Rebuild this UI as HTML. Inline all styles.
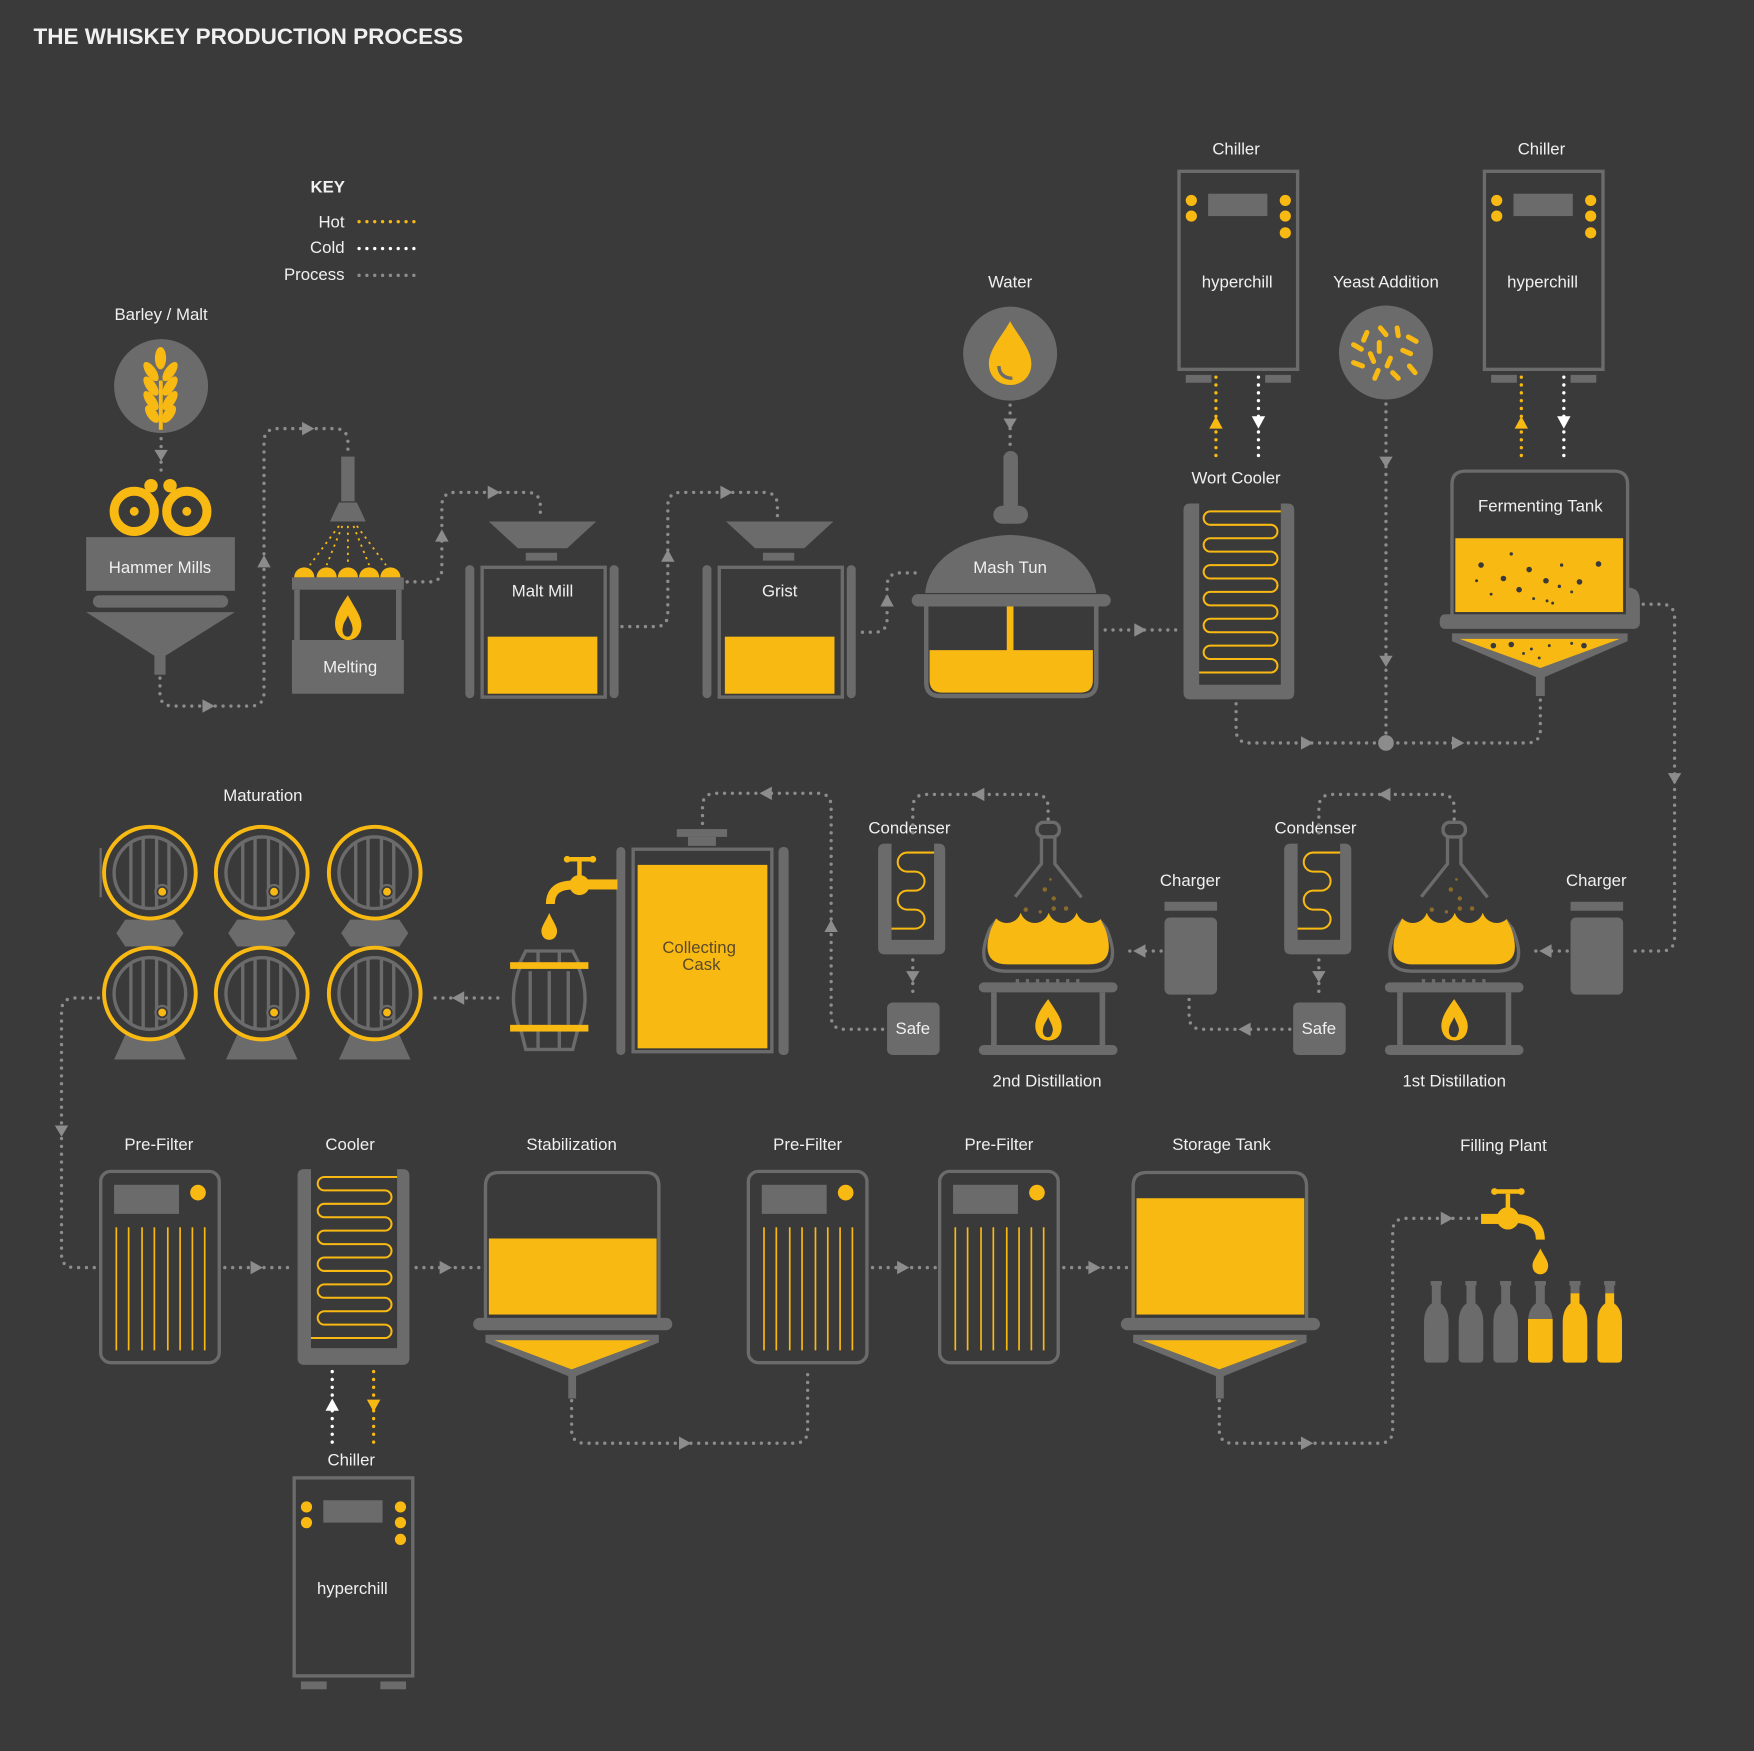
<!DOCTYPE html>
<html><head><meta charset="utf-8"><style>
html,body{margin:0;padding:0;background:#3a3a3a;}
svg{display:block;}
text{font-family:"Liberation Sans",sans-serif;fill:#f0f0f0;}
</style></head><body>
<svg width="1754" height="1751" viewBox="0 0 1568 1565" xmlns="http://www.w3.org/2000/svg">
<rect width="1568" height="1565" fill="#3a3a3a"/>
<defs>
<style>
.p{fill:none;stroke:#8c8c8c;stroke-width:3;stroke-linecap:round;stroke-dasharray:0 7;}
.h{fill:none;stroke:#f9b913;stroke-width:3;stroke-linecap:round;stroke-dasharray:0 7;}
.c{fill:none;stroke:#fff;stroke-width:3;stroke-linecap:round;stroke-dasharray:0 7;}
.g{fill:#6b6b6b;}
.y{fill:#f9b913;}
.go{fill:none;stroke:#6b6b6b;stroke-width:3;}
.coil{fill:none;stroke:#f9b913;stroke-width:1.8;}
.ah{fill:#8c8c8c;}
.bg{fill:#3a3a3a;}
</style>
</defs>

<!-- Title -->
<text x="30" y="39" font-size="20" font-weight="bold" textLength="384" lengthAdjust="spacingAndGlyphs">THE WHISKEY PRODUCTION PROCESS</text>

<!-- KEY -->
<text x="293" y="172" font-size="15" font-weight="bold" text-anchor="middle">KEY</text>
<text x="308" y="203" font-size="15" text-anchor="end">Hot</text>
<text x="308" y="226" font-size="15" text-anchor="end">Cold</text>
<text x="308" y="250" font-size="15" text-anchor="end">Process</text>
<line class="h" x1="321" y1="198" x2="372" y2="198"/>
<line class="c" x1="321" y1="222" x2="372" y2="222"/>
<line class="p" x1="321" y1="246" x2="372" y2="246"/>

<!-- Barley -->
<text x="144" y="286" font-size="15" text-anchor="middle">Barley / Malt</text>
<circle cx="144" cy="345" r="42" class="g"/>
<g class="y">
<rect x="142" y="340" width="3.5" height="44"/>
<ellipse cx="143.5" cy="320" rx="5" ry="10"/>
<ellipse cx="135" cy="332" rx="4.5" ry="10" transform="rotate(-35 135 332)"/>
<ellipse cx="152" cy="332" rx="4.5" ry="10" transform="rotate(35 152 332)"/>
<ellipse cx="135" cy="345" rx="4.5" ry="10" transform="rotate(-35 135 345)"/>
<ellipse cx="152" cy="345" rx="4.5" ry="10" transform="rotate(35 152 345)"/>
<ellipse cx="135" cy="358" rx="4.5" ry="10" transform="rotate(-35 135 358)"/>
<ellipse cx="152" cy="358" rx="4.5" ry="10" transform="rotate(35 152 358)"/>
<ellipse cx="136" cy="370" rx="4.5" ry="9" transform="rotate(-35 136 370)"/>
<ellipse cx="151" cy="370" rx="4.5" ry="9" transform="rotate(35 151 370)"/>
</g>
<line class="p" x1="144" y1="392" x2="144" y2="425"/>
<polygon class="ah" points="138,402 150,402 144,412"/>

<!-- Hammer mills -->
<circle cx="120" cy="457" r="18" fill="none" stroke="#f9b913" stroke-width="8"/>
<circle cx="167" cy="457" r="18" fill="none" stroke="#f9b913" stroke-width="8"/>
<circle cx="120" cy="457" r="4" class="y"/><circle cx="167" cy="457" r="4" class="y"/>
<circle cx="135" cy="434" r="6" class="y"/><circle cx="152" cy="434" r="6" class="y"/>
<rect x="77" y="480" width="133" height="48" class="g"/>
<text x="143" y="512" font-size="15" text-anchor="middle">Hammer Mills</text>
<rect x="83" y="532" width="121" height="11" rx="5.5" class="g"/>
<polygon class="g" points="77,547 210,547 148,586 148,603 138,603 138,586"/>
<path class="p" d="M143,606 V620 Q143,631 155,631 H224 Q236,631 236,619 V395 Q236,383 248,383 H299 Q311,383 311,395 V406"/>
<polygon class="ah" points="181,625 192,631 181,637"/>
<polygon class="ah" points="230,507 242,507 236,496"/>
<polygon class="ah" points="270,377 281,383 270,389"/>

<!-- Melting -->
<rect x="305" y="408" width="12" height="40" class="g"/>
<polygon class="g" points="303,449 319,449 327,466 295,466"/>
<g stroke="#f9b913" stroke-width="1.6" stroke-dasharray="2 4" fill="none">
<line x1="303" y1="470" x2="277" y2="505"/><line x1="306" y1="470" x2="292" y2="505"/><line x1="311" y1="470" x2="311" y2="505"/><line x1="316" y1="470" x2="330" y2="505"/><line x1="319" y1="470" x2="345" y2="505"/>
</g>
<g class="y"><path d="M263,516 a9,9 0 0 1 18,0Z"/><path d="M283,516 a9,9 0 0 1 18,0Z"/><path d="M302,516 a9,9 0 0 1 18,0Z"/><path d="M321,516 a9,9 0 0 1 18,0Z"/><path d="M340,516 a9,9 0 0 1 18,0Z"/></g>
<rect x="261" y="516" width="100" height="11" class="g"/>
<rect x="263" y="527" width="5" height="46" class="g"/><rect x="354" y="527" width="5" height="46" class="g"/>
<path class="y" d="M311,532 C302,545 298,553 300,562 C302,569 307,572 311,572 C317,572 322,568 323,560 C324,552 318,545 311,532Z M311,569 C307,569 305,565 307,558 C308,555 310,553 311,550 C313,555 316,559 315,564 C314,567 313,569 311,569Z"/>
<rect x="261" y="572" width="100" height="48" class="g"/>
<text x="313" y="601" font-size="15" text-anchor="middle">Melting</text>
<path class="p" d="M364,520 H384 Q395,520 395,508 V452 Q395,440 407,440 H471 Q483,440 483,452 V462"/>
<polygon class="ah" points="389,484 401,484 395,473"/>
<polygon class="ah" points="436,434 447,440 436,446"/>

<!-- Malt mill -->
<g id="mill">
<polygon class="g" points="437,466 533,466 507,490 463,490"/>
<rect x="470" y="494" width="28" height="7" class="g"/>
<rect x="416" y="505" width="8" height="119" rx="4" class="g"/>
<rect x="545" y="505" width="8" height="119" rx="4" class="g"/>
<rect x="431" y="507" width="110" height="116" class="go" stroke-width="4"/>
<rect x="436" y="569" width="98" height="51" class="y"/>
</g>
<text x="485" y="533" font-size="15" text-anchor="middle">Malt Mill</text>
<use href="#mill" transform="translate(212 0)"/>
<text x="697" y="533" font-size="15" text-anchor="middle">Grist</text>
<path class="p" d="M556,560 H586 Q597,560 597,548 V452 Q597,440 609,440 H683 Q695,440 695,452 V462"/>
<polygon class="ah" points="591,502 603,502 597,491"/>
<polygon class="ah" points="644,434 655,440 644,446"/>

<!-- Water -->
<text x="903" y="257" font-size="15" text-anchor="middle">Water</text>
<circle cx="903" cy="316" r="42" class="g"/>
<path class="y" d="M903,287 C896,300 884,312 884,325 C884,337 893,344 903,344 C913,344 922,337 922,325 C922,312 910,300 903,287Z"/>
<path d="M893,327 C893,334 898,338 905,338" fill="none" stroke="#6b6b6b" stroke-width="3"/>
<line class="p" x1="903" y1="362" x2="903" y2="398"/>
<polygon class="ah" points="897,374 909,374 903,384"/>

<!-- Mash tun -->
<rect x="897" y="403" width="13" height="60" rx="6.5" class="g"/>
<rect x="888" y="452" width="31" height="16" rx="8" class="g"/>
<path class="g" d="M827,530 C830,500 860,480 903,478 C946,480 976,500 980,530Z"/>
<text x="903" y="512" font-size="15" text-anchor="middle">Mash Tun</text>
<rect x="815" y="531" width="178" height="11" rx="5.5" class="g"/>
<path d="M828,542 V610 Q828,622 840,622 H968 Q980,622 980,610 V542" fill="none" stroke="#6b6b6b" stroke-width="4"/>
<path class="y" d="M831,581 H977 V608 Q977,619 966,619 H842 Q831,619 831,608Z"/>
<rect x="900" y="542" width="6" height="40" class="y"/>
<path class="p" d="M771,565 H782 Q793,565 793,553 V524 Q793,512 805,512 H822"/>
<polygon class="ah" points="787,542 799,542 793,531"/>
<line class="p" x1="988" y1="563" x2="1052" y2="563"/>
<polygon class="ah" points="1014,557 1025,563 1014,569"/>

<!-- Wort cooler -->
<text x="1105" y="432" font-size="15" text-anchor="middle">Wort Cooler</text>
<path class="g" d="M1058,456 Q1058,450 1064,450 H1072 V612 H1145 V450 H1151 Q1157,450 1157,456 V619 Q1157,625 1151,625 H1064 Q1058,625 1058,619Z"/>
<path class="coil" d="M1145,457 H1082 a6,6 0 0 0 0,12 H1136 a6,6 0 0 1 0,12 H1082 a6,6 0 0 0 0,12 H1136 a6,6 0 0 1 0,12 H1082 a6,6 0 0 0 0,12 H1136 a6,6 0 0 1 0,12 H1082 a6,6 0 0 0 0,12 H1136 a6,6 0 0 1 0,12 H1082 a6,6 0 0 0 0,12 H1136 a6,6 0 0 1 0,12 H1082 a6,6 0 0 0 0,12 H1136 a6,6 0 0 1 0,12 H1072"/>

<!-- Chillers -->
<g id="chill">
<rect x="1054" y="153" width="106" height="177" class="go" stroke-width="2.5"/>
<rect x="1080" y="173" width="53" height="20" class="g"/>
<circle cx="1065" cy="179" r="5" class="y"/><circle cx="1065" cy="193" r="5" class="y"/>
<circle cx="1149" cy="179" r="5" class="y"/><circle cx="1149" cy="193" r="5" class="y"/><circle cx="1149" cy="208" r="5" class="y"/>
<rect x="1060" y="335" width="23" height="7" class="g"/><rect x="1131" y="335" width="23" height="7" class="g"/>
<text x="1106" y="257" font-size="15" text-anchor="middle">hyperchill</text>
</g>
<text x="1105" y="138" font-size="15" text-anchor="middle">Chiller</text>
<line class="h" x1="1087" y1="337" x2="1087" y2="413"/>
<polygon points="1081,383 1093,383 1087,372" class="y"/>
<line class="c" x1="1125" y1="337" x2="1125" y2="413"/>
<polygon points="1119,372 1131,372 1125,383" fill="#fff"/>

<use href="#chill" transform="translate(273 0)"/>
<text x="1378" y="138" font-size="15" text-anchor="middle">Chiller</text>
<line class="h" x1="1360" y1="337" x2="1360" y2="413"/>
<polygon points="1354,383 1366,383 1360,372" class="y"/>
<line class="c" x1="1398" y1="337" x2="1398" y2="413"/>
<polygon points="1392,372 1404,372 1398,383" fill="#fff"/>

<!-- Yeast -->
<text x="1239" y="257" font-size="15" text-anchor="middle">Yeast Addition</text>
<circle cx="1239" cy="315" r="42" class="g"/>
<g stroke="#f9b913" stroke-width="4.5" stroke-linecap="round">
<line x1="1234" y1="293" x2="1239" y2="299"/><line x1="1249" y1="293" x2="1250" y2="300"/><line x1="1222" y1="297" x2="1219" y2="304"/>
<line x1="1233" y1="306" x2="1233" y2="314"/><line x1="1259" y1="301" x2="1266" y2="305"/><line x1="1210" y1="308" x2="1217" y2="312"/>
<line x1="1225" y1="316" x2="1228" y2="323"/><line x1="1243" y1="320" x2="1240" y2="327"/><line x1="1254" y1="313" x2="1261" y2="316"/>
<line x1="1210" y1="324" x2="1218" y2="327"/><line x1="1232" y1="331" x2="1229" y2="338"/><line x1="1245" y1="333" x2="1250" y2="338"/><line x1="1260" y1="327" x2="1265" y2="333"/>
</g>
<line class="p" x1="1239" y1="361" x2="1239" y2="662"/>
<polygon class="ah" points="1233,408 1245,408 1239,418"/>
<polygon class="ah" points="1233,586 1245,586 1239,596"/>

<!-- Fermenting tank -->
<path d="M1298,550 V433 Q1298,421 1310,421 H1443 Q1455,421 1455,433 V550" fill="none" stroke="#6b6b6b" stroke-width="3"/>
<text x="1377" y="457" font-size="15" text-anchor="middle">Fermenting Tank</text>
<rect x="1301" y="481" width="150" height="66" class="y"/>
<g fill="#3a3a3a">
<circle cx="1324" cy="505" r="2.5"/><circle cx="1351" cy="495" r="1.5"/><circle cx="1367" cy="509" r="2.5"/><circle cx="1396" cy="505" r="1.5"/><circle cx="1429" cy="504" r="2.5"/>
<circle cx="1320" cy="519" r="1.3"/><circle cx="1344" cy="517" r="2.5"/><circle cx="1382" cy="519" r="2.5"/><circle cx="1412" cy="520" r="2.5"/><circle cx="1358" cy="527" r="2.5"/><circle cx="1333" cy="531" r="1.3"/>
<circle cx="1394" cy="524" r="1.5"/><circle cx="1371" cy="535" r="1.3"/><circle cx="1383" cy="537" r="1.3"/><circle cx="1388" cy="539" r="1.3"/><circle cx="1405" cy="529" r="1.3"/>
</g>
<path class="g" d="M1292,549 H1455 V525 Q1466,525 1466,537 V556 Q1466,562 1460,562 H1292 Q1287,562 1287,556 Q1287,549 1292,549Z"/>
<polygon class="g" points="1298,566 1455,566 1455,573 1381,605 1381,622 1373,622 1373,605 1298,573"/>
<polygon class="y" points="1305,571 1448,571 1377,597"/>
<g fill="#3a3a3a"><circle cx="1335" cy="577" r="2.5"/><circle cx="1351" cy="576" r="2.5"/><circle cx="1369" cy="580" r="1.3"/><circle cx="1385" cy="577" r="1.3"/><circle cx="1405" cy="575" r="1.3"/><circle cx="1416" cy="577" r="2.5"/><circle cx="1376" cy="588" r="1.3"/><circle cx="1362" cy="584" r="1.3"/></g>
<path class="p" d="M1105,629 V652 Q1105,664 1117,664 H1365 Q1377,664 1377,652 V625"/>
<circle cx="1239" cy="664" r="7" fill="#8c8c8c"/>
<polygon class="ah" points="1163,658 1174,664 1163,670"/>
<polygon class="ah" points="1298,658 1309,664 1298,670"/>
<path class="p" d="M1469,540 H1485 Q1497,540 1497,552 V838 Q1497,850 1485,850 H1460"/>
<polygon class="ah" points="1491,691 1503,691 1497,701"/>

<!-- 1st distillation side -->
<g id="dist">
<text x="1427" y="792" font-size="15" text-anchor="middle">Charger</text>
<rect x="1404" y="806" width="47" height="8" class="g"/>
<rect x="1404" y="820" width="47" height="69" rx="5" class="g"/>
<line class="p" x1="1401" y1="850" x2="1368" y2="850"/>
<polygon class="ah" points="1387,844 1376,850 1387,856"/>
<rect x="1290" y="735" width="20" height="13" rx="6" fill="none" stroke="#6b6b6b" stroke-width="3"/>
<path d="M1294,748 V772 L1248,830 Q1232,868 1262,868 H1338 Q1368,868 1352,830 L1306,772 V748" fill="none" stroke="#6b6b6b" stroke-width="3"/>
<path class="y" d="M1249,830 L1256,816 H1344 L1351,830 Q1362,862 1336,862 H1264 Q1238,862 1249,830Z"/>
<g class="bg"><circle cx="1263" cy="812" r="13"/><circle cx="1288" cy="812" r="13"/><circle cx="1313" cy="812" r="13"/><circle cx="1338" cy="812" r="13"/></g>
<g fill="#8a6a2a"><circle cx="1297" cy="795" r="2"/><circle cx="1305" cy="803" r="2"/><circle cx="1280" cy="813" r="2"/><circle cx="1305" cy="812" r="2"/><circle cx="1316" cy="812" r="2"/><circle cx="1293" cy="815" r="1.5"/><circle cx="1302" cy="786" r="1.2"/></g>
<rect x="1238" y="878" width="124" height="9" rx="4.5" class="g"/>
<g class="g"><rect x="1271" y="875" width="3" height="9"/><rect x="1280" y="875" width="3" height="9"/><rect x="1289" y="875" width="3" height="9"/><rect x="1298" y="875" width="3" height="9"/><rect x="1307" y="875" width="3" height="9"/><rect x="1316" y="875" width="3" height="9"/><rect x="1325" y="875" width="3" height="9"/></g>
<rect x="1249" y="887" width="5" height="48" class="g"/><rect x="1346" y="887" width="5" height="48" class="g"/>
<rect x="1238" y="934" width="124" height="9" rx="4.5" class="g"/>
<path class="y" d="M1300,893 C1291,905 1287,913 1289,921 C1291,928 1296,930 1300,930 C1306,930 1311,927 1312,919 C1313,911 1307,904 1300,893Z M1300,927 C1296,927 1294,923 1296,917 C1297,914 1299,912 1300,909 C1302,914 1305,918 1304,922 C1303,926 1302,927 1300,927Z"/>
<text x="1300" y="971" font-size="15" text-anchor="middle">1st Distillation</text>
<text x="1176" y="745" font-size="15" text-anchor="middle">Condenser</text>
<path class="g" d="M1148,760 Q1148,754 1154,754 H1160 V840 H1198 V754 H1202 Q1208,754 1208,760 V847 Q1208,853 1202,853 H1154 Q1148,853 1148,847Z"/>
<path class="coil" d="M1198,762 H1174 a8.5,8.5 0 0 0 0,17 H1181 a8.5,8.5 0 0 1 0,17 H1174 a8.5,8.5 0 0 0 0,17 H1181 a8.5,8.5 0 0 1 0,17 H1160"/>
<line class="p" x1="1179" y1="858" x2="1179" y2="890"/>
<polygon class="ah" points="1173,868 1185,868 1179,878"/>
<rect x="1156" y="896" width="47" height="47" rx="5" class="g"/>
<text x="1179" y="924" font-size="15" text-anchor="middle">Safe</text>
<path class="p" d="M1300,732 V722 Q1300,710 1288,710 H1191 Q1179,710 1179,722 V749"/>
<polygon class="ah" points="1243,704 1232,710 1243,716"/>
</g>
<g transform="translate(-363 0)">
<text x="1427" y="792" font-size="15" text-anchor="middle">Charger</text>
<rect x="1404" y="806" width="47" height="8" class="g"/>
<rect x="1404" y="820" width="47" height="69" rx="5" class="g"/>
<line class="p" x1="1401" y1="850" x2="1368" y2="850"/>
<polygon class="ah" points="1387,844 1376,850 1387,856"/>
<rect x="1290" y="735" width="20" height="13" rx="6" fill="none" stroke="#6b6b6b" stroke-width="3"/>
<path d="M1294,748 V772 L1248,830 Q1232,868 1262,868 H1338 Q1368,868 1352,830 L1306,772 V748" fill="none" stroke="#6b6b6b" stroke-width="3"/>
<path class="y" d="M1249,830 L1256,816 H1344 L1351,830 Q1362,862 1336,862 H1264 Q1238,862 1249,830Z"/>
<g class="bg"><circle cx="1263" cy="812" r="13"/><circle cx="1288" cy="812" r="13"/><circle cx="1313" cy="812" r="13"/><circle cx="1338" cy="812" r="13"/></g>
<g fill="#8a6a2a"><circle cx="1297" cy="795" r="2"/><circle cx="1305" cy="803" r="2"/><circle cx="1280" cy="813" r="2"/><circle cx="1305" cy="812" r="2"/><circle cx="1316" cy="812" r="2"/><circle cx="1293" cy="815" r="1.5"/><circle cx="1302" cy="786" r="1.2"/></g>
<rect x="1238" y="878" width="124" height="9" rx="4.5" class="g"/>
<g class="g"><rect x="1271" y="875" width="3" height="9"/><rect x="1280" y="875" width="3" height="9"/><rect x="1289" y="875" width="3" height="9"/><rect x="1298" y="875" width="3" height="9"/><rect x="1307" y="875" width="3" height="9"/><rect x="1316" y="875" width="3" height="9"/><rect x="1325" y="875" width="3" height="9"/></g>
<rect x="1249" y="887" width="5" height="48" class="g"/><rect x="1346" y="887" width="5" height="48" class="g"/>
<rect x="1238" y="934" width="124" height="9" rx="4.5" class="g"/>
<path class="y" d="M1300,893 C1291,905 1287,913 1289,921 C1291,928 1296,930 1300,930 C1306,930 1311,927 1312,919 C1313,911 1307,904 1300,893Z M1300,927 C1296,927 1294,923 1296,917 C1297,914 1299,912 1300,909 C1302,914 1305,918 1304,922 C1303,926 1302,927 1300,927Z"/>
<text x="1299" y="971" font-size="15" text-anchor="middle">2nd Distillation</text>
<text x="1176" y="745" font-size="15" text-anchor="middle">Condenser</text>
<path class="g" d="M1148,760 Q1148,754 1154,754 H1160 V840 H1198 V754 H1202 Q1208,754 1208,760 V847 Q1208,853 1202,853 H1154 Q1148,853 1148,847Z"/>
<path class="coil" d="M1198,762 H1174 a8.5,8.5 0 0 0 0,17 H1181 a8.5,8.5 0 0 1 0,17 H1174 a8.5,8.5 0 0 0 0,17 H1181 a8.5,8.5 0 0 1 0,17 H1160"/>
<line class="p" x1="1179" y1="858" x2="1179" y2="890"/>
<polygon class="ah" points="1173,868 1185,868 1179,878"/>
<rect x="1156" y="896" width="47" height="47" rx="5" class="g"/>
<text x="1179" y="924" font-size="15" text-anchor="middle">Safe</text>
<path class="p" d="M1300,732 V722 Q1300,710 1288,710 H1191 Q1179,710 1179,722 V749"/>
<polygon class="ah" points="1243,704 1232,710 1243,716"/>
</g>
<path class="p" d="M1153,920 H1075 Q1063,920 1063,908 V892"/>
<polygon class="ah" points="1118,914 1107,920 1118,926"/>

<path class="p" d="M789,920 H755 Q743,920 743,908 V721 Q743,709 731,709 H640 Q628,709 628,721 V738"/>
<polygon class="ah" points="737,833 749,833 743,822"/>
<polygon class="ah" points="690,703 679,709 690,715"/>

<!-- Collecting cask -->
<rect x="605" y="741" width="45" height="7" class="g"/>
<rect x="615" y="748" width="25" height="8" class="g"/>
<rect x="551" y="757" width="8" height="186" rx="4" class="g"/>
<rect x="696" y="757" width="9" height="186" rx="4" class="g"/>
<rect x="566" y="759" width="124" height="181" class="go" stroke-width="3"/>
<rect x="570" y="773" width="116" height="164" class="y"/>
<text x="625" y="852" font-size="15" style="fill:#5a4a2a" text-anchor="middle">Collecting</text>
<text x="627" y="867" font-size="15" style="fill:#5a4a2a" text-anchor="middle">Cask</text>
<!-- tap -->
<rect x="520" y="786" width="32" height="9" class="y"/>
<circle cx="518" cy="791" r="9" class="y"/>
<rect x="516" y="770" width="4" height="14" class="y"/>
<rect x="506" y="766" width="25" height="4" rx="2" class="y"/>
<circle cx="507" cy="768" r="3" class="y"/><circle cx="530" cy="768" r="3" class="y"/>
<path d="M512,791 Q492,791 492,808" fill="none" stroke="#f9b913" stroke-width="8"/>
<path class="y" d="M491,816 C488,823 484,828 484,832 C484,837 487,840 491,840 C495,840 498,837 498,832 C498,828 494,823 491,816Z"/>
<!-- small barrel -->
<path class="go" d="M464,862 L470,850 H512 L518,862 M466,862 Q452,893 466,922 M516,862 Q530,893 516,922 M466,922 L470,938 H512 L516,922" stroke-width="3"/>
<line x1="481" y1="850" x2="481" y2="862" stroke="#6b6b6b" stroke-width="3"/><line x1="500" y1="850" x2="500" y2="862" stroke="#6b6b6b" stroke-width="3"/>
<line x1="481" y1="922" x2="481" y2="938" stroke="#6b6b6b" stroke-width="3"/><line x1="500" y1="922" x2="500" y2="938" stroke="#6b6b6b" stroke-width="3"/>
<line x1="474" y1="868" x2="474" y2="916" stroke="#6b6b6b" stroke-width="3"/><line x1="491" y1="868" x2="491" y2="916" stroke="#6b6b6b" stroke-width="3"/><line x1="508" y1="868" x2="508" y2="916" stroke="#6b6b6b" stroke-width="3"/>
<rect x="456" y="860" width="70" height="6" class="y"/>
<rect x="456" y="916" width="70" height="6" class="y"/>
<line class="p" x1="445" y1="892" x2="383" y2="892"/>
<polygon class="ah" points="415,886 404,892 415,898"/>

<!-- Maturation -->
<text x="235" y="716" font-size="15" text-anchor="middle">Maturation</text>
<g id="brl">
<polygon class="g" points="112,822 156,822 164,834 156,846 112,846 104,834"/>
<polygon class="g" points="112,925 156,925 166,947 102,947"/>
<circle cx="134" cy="780" r="41" fill="#3a3a3a" stroke="#f9b913" stroke-width="3.5"/>
<circle cx="134" cy="780" r="32" fill="none" stroke="#6b6b6b" stroke-width="3"/>
<g stroke="#6b6b6b" stroke-width="3"><line x1="117" y1="753" x2="117" y2="807"/><line x1="128" y1="748" x2="128" y2="812"/><line x1="140" y1="748" x2="140" y2="812"/><line x1="151" y1="753" x2="151" y2="807"/></g>
<circle cx="145" cy="797" r="6" fill="#3a3a3a" stroke="#6b6b6b" stroke-width="2"/>
<circle cx="145" cy="797" r="3.5" class="y"/>
<circle cx="134" cy="888" r="41" fill="#3a3a3a" stroke="#f9b913" stroke-width="3.5"/>
<circle cx="134" cy="888" r="32" fill="none" stroke="#6b6b6b" stroke-width="3"/>
<g stroke="#6b6b6b" stroke-width="3"><line x1="117" y1="861" x2="117" y2="915"/><line x1="128" y1="856" x2="128" y2="920"/><line x1="140" y1="856" x2="140" y2="920"/><line x1="151" y1="861" x2="151" y2="915"/></g>
<circle cx="145" cy="905" r="6" fill="#3a3a3a" stroke="#6b6b6b" stroke-width="2"/>
<circle cx="145" cy="905" r="3.5" class="y"/>
</g>
<use href="#brl" transform="translate(100 0)"/>
<use href="#brl" transform="translate(201 0)"/>
<rect x="89" y="758" width="2" height="44" class="g"/>
<path class="p" d="M88,892 H67 Q55,892 55,904 V1121 Q55,1133 67,1133 H86"/>
<polygon class="ah" points="49,1006 61,1006 55,1016"/>

<!-- Bottom row -->
<g id="pf">
<rect x="90" y="1047" width="106" height="171" rx="9" class="go"/>
<rect x="102" y="1059" width="58" height="26" class="g"/>
<circle cx="177" cy="1066" r="7" class="y"/>
<g stroke="#f9b913" stroke-width="1.5"><line x1="104" y1="1097" x2="104" y2="1207"/><line x1="115" y1="1097" x2="115" y2="1207"/><line x1="127" y1="1097" x2="127" y2="1207"/><line x1="138" y1="1097" x2="138" y2="1207"/><line x1="150" y1="1097" x2="150" y2="1207"/><line x1="161" y1="1097" x2="161" y2="1207"/><line x1="172" y1="1097" x2="172" y2="1207"/><line x1="183" y1="1097" x2="183" y2="1207"/></g>
</g>
<text x="142" y="1028" font-size="15" text-anchor="middle">Pre-Filter</text>
<use href="#pf" transform="translate(579 0)"/>
<text x="722" y="1028" font-size="15" text-anchor="middle">Pre-Filter</text>
<use href="#pf" transform="translate(750 0)"/>
<text x="893" y="1028" font-size="15" text-anchor="middle">Pre-Filter</text>

<line class="p" x1="201" y1="1133" x2="262" y2="1133"/>
<polygon class="ah" points="224,1127 235,1133 224,1139"/>

<!-- Cooler -->
<text x="313" y="1028" font-size="15" text-anchor="middle">Cooler</text>
<path class="g" d="M266,1051 Q266,1045 272,1045 H278 V1205 H355 V1045 H360 Q366,1045 366,1051 V1214 Q366,1220 360,1220 H272 Q266,1220 266,1214Z"/>
<path class="coil" d="M355,1052 H290 a6,6 0 0 0 0,12 H344 a6,6 0 0 1 0,12 H290 a6,6 0 0 0 0,12 H344 a6,6 0 0 1 0,12 H290 a6,6 0 0 0 0,12 H344 a6,6 0 0 1 0,12 H290 a6,6 0 0 0 0,12 H344 a6,6 0 0 1 0,12 H290 a6,6 0 0 0 0,12 H344 a6,6 0 0 1 0,12 H290 a6,6 0 0 0 0,12 H344 a6,6 0 0 1 0,12 H278"/>
<line class="c" x1="297" y1="1226" x2="297" y2="1290"/>
<polygon points="291,1261 303,1261 297,1250" fill="#fff"/>
<line class="h" x1="334" y1="1226" x2="334" y2="1290"/>
<polygon points="328,1251 340,1251 334,1262" class="y"/>
<use href="#chill" transform="translate(-791 1168)"/>
<text x="314" y="1310" font-size="15" text-anchor="middle">Chiller</text>

<line class="p" x1="372" y1="1133" x2="430" y2="1133"/>
<polygon class="ah" points="393,1127 404,1133 393,1139"/>

<!-- Stabilization -->
<g id="tank">
<path d="M434,1185 V1060 Q434,1048 446,1048 H577 Q589,1048 589,1060 V1185" fill="none" stroke="#6b6b6b" stroke-width="3"/>
<rect x="423" y="1178" width="178" height="11" rx="5.5" class="g"/>
<polygon class="g" points="434,1193 589,1193 589,1200 515,1230 515,1250 508,1250 508,1230 434,1200"/>
<polygon class="y" points="442,1198 581,1198 511,1224"/>
</g>
<rect x="437" y="1107" width="150" height="68" class="y"/>
<text x="511" y="1028" font-size="15" text-anchor="middle">Stabilization</text>
<path class="p" d="M511,1252 V1278 Q511,1290 523,1290 H710 Q722,1290 722,1278 V1222"/>
<polygon class="ah" points="607,1284 618,1290 607,1296"/>
<line class="p" x1="780" y1="1133" x2="837" y2="1133"/>
<polygon class="ah" points="802,1127 813,1133 802,1139"/>
<line class="p" x1="951" y1="1133" x2="1008" y2="1133"/>
<polygon class="ah" points="973,1127 984,1133 973,1139"/>

<!-- Storage tank -->
<use href="#tank" transform="translate(579 0)"/>
<rect x="1016" y="1071" width="150" height="104" class="y"/>
<text x="1092" y="1028" font-size="15" text-anchor="middle">Storage Tank</text>
<path class="p" d="M1090,1252 V1278 Q1090,1290 1102,1290 H1233 Q1245,1290 1245,1278 V1101 Q1245,1089 1257,1089 H1322"/>
<polygon class="ah" points="1163,1284 1174,1290 1163,1296"/>
<polygon class="ah" points="1288,1083 1299,1089 1288,1095"/>

<!-- Filling plant -->
<text x="1344" y="1029" font-size="15" text-anchor="middle">Filling Plant</text>
<rect x="1324" y="1085" width="24" height="9" class="y"/>
<circle cx="1348" cy="1089" r="10" class="y"/>
<rect x="1346" y="1067" width="4" height="14" class="y"/>
<rect x="1335" y="1063" width="26" height="4" rx="2" class="y"/>
<circle cx="1336" cy="1065" r="3" class="y"/><circle cx="1360" cy="1065" r="3" class="y"/>
<path d="M1352,1089 Q1377,1089 1377,1108" fill="none" stroke="#f9b913" stroke-width="8"/>
<path class="y" d="M1377,1116 C1374,1122 1370,1127 1370,1131 C1370,1136 1373,1139 1377,1139 C1381,1139 1384,1136 1384,1131 C1384,1127 1380,1122 1377,1116Z"/>
<g id="bot"><rect x="1279" y="1145" width="10" height="4" class="g"/><path class="g" d="M1280,1148 H1288 V1165 Q1295,1170 1295,1182 V1214 Q1295,1218 1291,1218 H1277 Q1273,1218 1273,1214 V1182 Q1273,1170 1280,1165Z"/></g>
<use href="#bot" transform="translate(31 0)"/>
<use href="#bot" transform="translate(62 0)"/>
<use href="#bot" transform="translate(93 0)"/>
<path class="y" d="M1366,1179 H1388 V1214 Q1388,1218 1384,1218 H1370 Q1366,1218 1366,1214Z"/>
<g transform="translate(124 0)"><rect x="1279" y="1145" width="10" height="4" class="g"/><rect x="1280" y="1148" width="8" height="8" class="g"/><path class="y" d="M1280,1156 H1288 V1165 Q1295,1170 1295,1182 V1214 Q1295,1218 1291,1218 H1277 Q1273,1218 1273,1214 V1182 Q1273,1170 1280,1165Z"/></g>
<g transform="translate(155 0)"><rect x="1279" y="1145" width="10" height="4" class="g"/><rect x="1280" y="1148" width="8" height="8" class="g"/><path class="y" d="M1280,1156 H1288 V1165 Q1295,1170 1295,1182 V1214 Q1295,1218 1291,1218 H1277 Q1273,1218 1273,1214 V1182 Q1273,1170 1280,1165Z"/></g>
</svg>
</body></html>
